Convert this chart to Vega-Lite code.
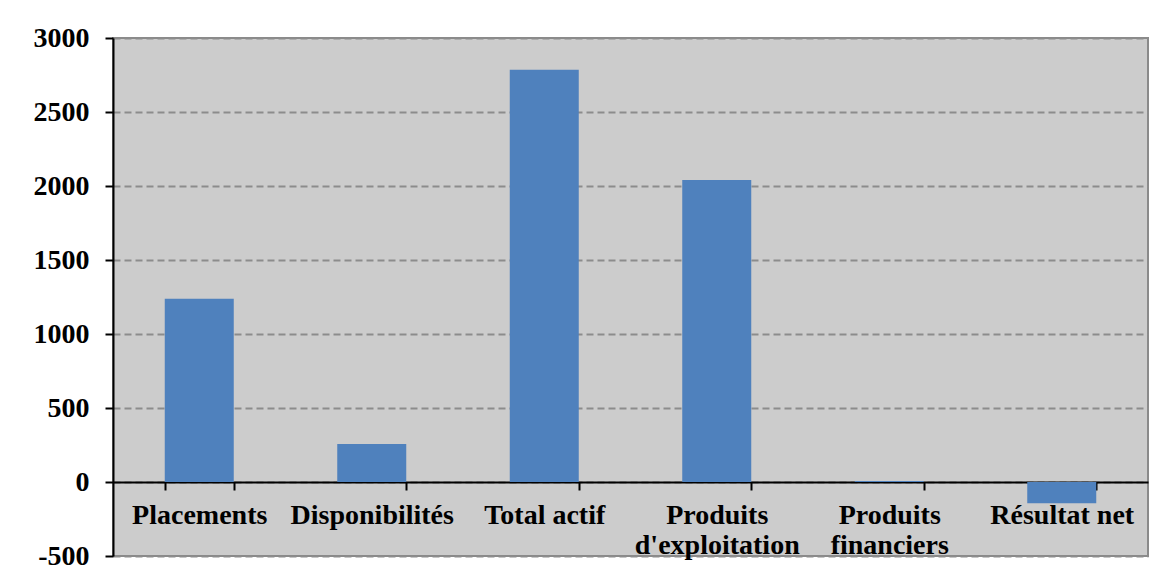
{
  "$schema": "https://vega.github.io/schema/vega-lite/v6.json",
  "autosize": {"type": "none"},
  "padding": {"left": 113, "top": 38, "right": 27, "bottom": 23},
  "width": 1035,
  "height": 518,
  "background": "white",
  "data": {
    "values": [
      {"poste": "Placements", "valeur": 1238},
      {"poste": "Disponibilités", "valeur": 257},
      {"poste": "Total actif", "valeur": 2785},
      {"poste": "Produits d'exploitation", "valeur": 2040},
      {"poste": "Produits financiers", "valeur": 6},
      {"poste": "Résultat net", "valeur": -143}
    ]
  },
  "mark": {"type": "bar", "color": "#4f81bd"},
  "encoding": {
    "x": {
      "field": "poste",
      "type": "nominal",
      "sort": null,
      "scale": {"paddingInner": 0.6, "paddingOuter": 0.3},
      "axis": {
        "title": null,
        "orient": "bottom",
        "offset": -74,
        "labelAngle": 0,
        "tickBand": "extent",
        "domainColor": "black",
        "domainWidth": 2,
        "tickColor": "black",
        "tickWidth": 2,
        "tickSize": 8,
        "labelFont": "Liberation Serif",
        "labelFontWeight": "bold",
        "labelFontSize": 28,
        "labelColor": "black",
        "labelPadding": 11,
        "labelLineHeight": 30,
        "labelBaseline": "top",
        "labelExpr": "indexof(datum.label, 'Produits') == 0 ? split(datum.label, ' ') : datum.label",
        "grid": false
      }
    },
    "y": {
      "field": "valeur",
      "type": "quantitative",
      "scale": {"domain": [-500, 3000], "nice": false},
      "axis": {
        "title": null,
        "values": [-500, 0, 500, 1000, 1500, 2000, 2500, 3000],
        "labelExpr": "'' + datum.value",
        "domainColor": "black",
        "domainWidth": 2,
        "tickColor": "black",
        "tickWidth": 2,
        "tickSize": 8,
        "labelFont": "Liberation Serif",
        "labelFontWeight": "bold",
        "labelFontSize": 28,
        "labelColor": "black",
        "labelPadding": 16,
        "grid": true,
        "gridColor": "#8c8c8c",
        "gridWidth": 2,
        "gridDash": [7, 4]
      }
    }
  },
  "config": {
    "view": {"fill": "#cccccc", "stroke": "#8a8a8a", "strokeWidth": 2}
  }
}
